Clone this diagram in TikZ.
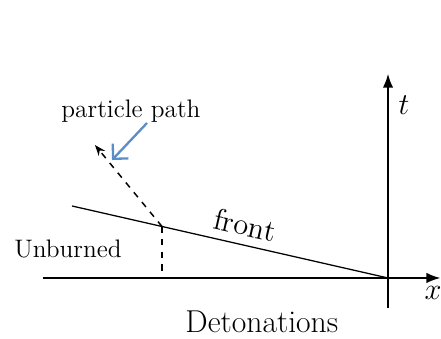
\documentclass[tikz,border=0pt]{standalone}
\usepackage{amsmath,amssymb}
\usepackage{xcolor}
\usetikzlibrary{arrows.meta,positioning,calc}
\definecolor{PathBlue}{HTML}{5B8DC9}

\begin{document}
\begin{tikzpicture}[x=1cm,y=1cm,>=Latex,every node/.style={align=center}]
        \useasboundingbox (0,0) rectangle (7.35,5.65);
        \coordinate (O) at (6.467,1.017);
        \coordinate (xl) at (0.717,1.017);
        \coordinate (xr) at (7.34,1.017);
        \coordinate (tb) at (6.467,0.517);
        \coordinate (tt) at (6.467,4.42);
        \coordinate (fl) at (1.2,2.217);
        \coordinate (P) at ($(fl)!0.2848!(O)$);
        \coordinate (Pf) at (P |- O);
        \coordinate (pe) at (1.583,3.233);
        \coordinate (pb) at (2.45,3.6);
        \coordinate (pa) at (1.867,2.983);
        % axes
        \draw[-Latex, line width=0.8pt] (xl) -- (xr);
        \draw[-Latex, line width=0.8pt] (tb) -- (tt);
        \node[font=\Large] (tlab) at (6.733,3.9) {$t$};
        \node[font=\Large] (xlab) at (7.217,0.767) {$x$};
        % front and particle path
        \draw[line width=0.6pt] (fl) -- (O);
        \draw[dashed, line width=0.6pt] (P) -- (Pf);
        \draw[dashed, line width=0.7pt, -{Stealth[length=1.8mm]}] (P) -- (pe);
        \node[font=\Large, rotate=-12.8] (front) at (4.083,1.9) {front};
        \node[font=\large] (unb) at (1.133,1.5) {Unburned};
        \node[font=\large] (ppath) at (2.183,3.8) {particle path};
        \draw[PathBlue, line width=1.1pt, -{Straight Barb[length=1.8mm]}] (pb) -- (pa);
        \node[font=\fontsize{15}{18}\selectfont, anchor=base west] (title) at (2.967,0.1) {Detonations};
    \end{tikzpicture}
\end{document}
